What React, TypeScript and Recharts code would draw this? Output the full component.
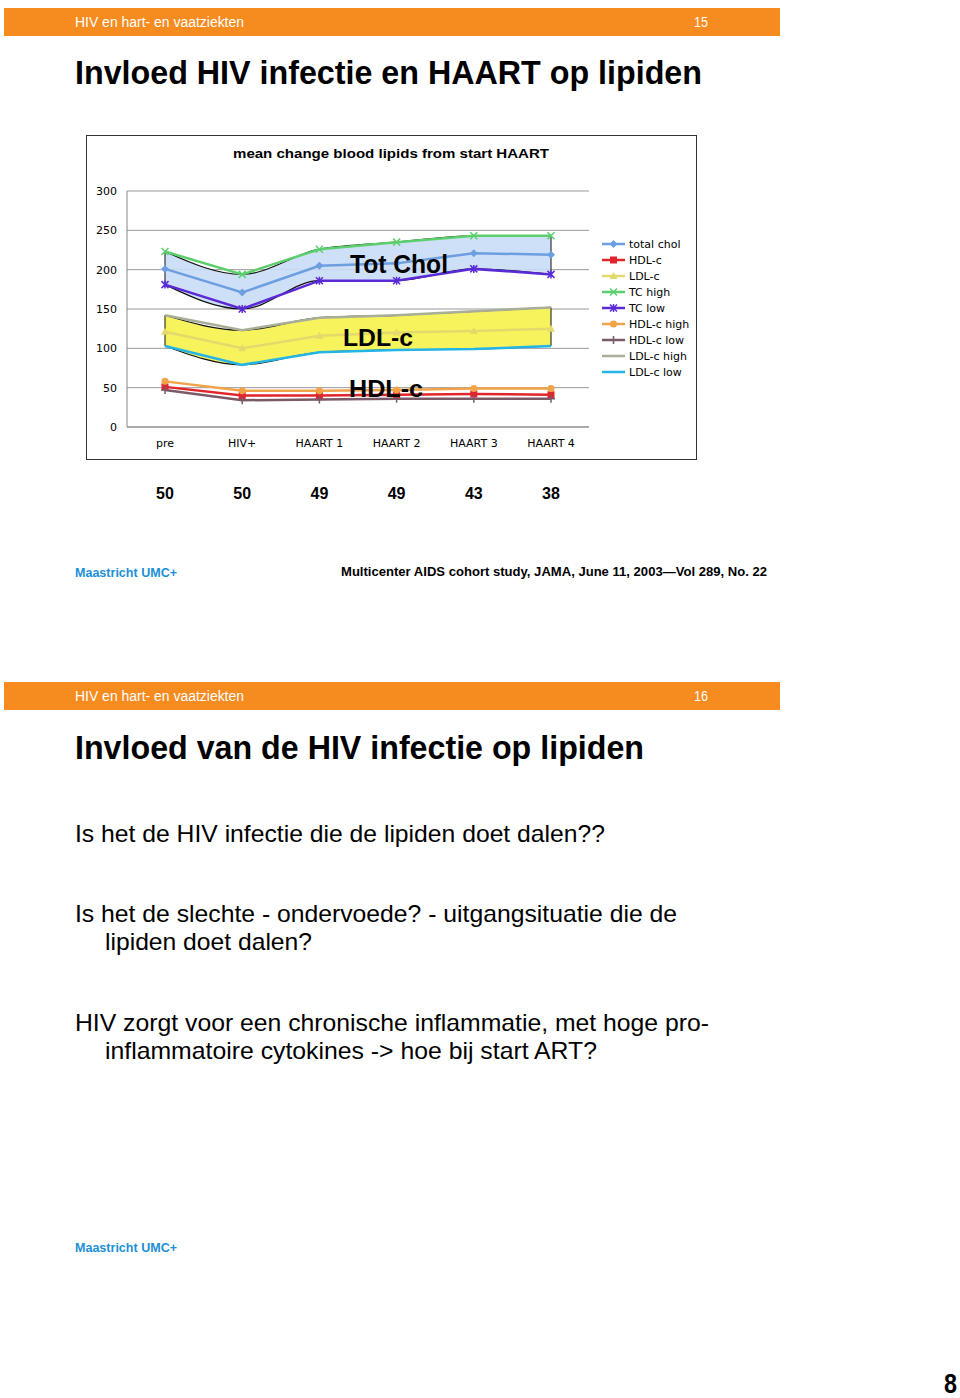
import {
  ComposedChart,
  Line,
  Area,
  XAxis,
  YAxis,
  CartesianGrid,
  Legend,
  ReferenceLine,
} from "recharts";

const categories = ["pre", "HIV+", "HAART 1", "HAART 2", "HAART 3", "HAART 4"];
const patients = [50, 50, 49, 49, 43, 38];

const totalChol = [201, 171, 205, 208, 221, 219];
const hdl = [51, 40, 40, 41, 42, 41];
const ldl = [121, 100, 116, 120, 122, 125];
const tcHigh = [223, 194, 226, 235, 243, 243];
const tcLow = [181, 150, 186, 186, 201, 194];
const hdlHigh = [58, 46, 46, 47, 49, 49];
const hdlLow = [47, 34, 35, 36, 36, 36];
const ldlHigh = [142, 123, 139, 142, 147, 152];
const ldlLow = [103, 79, 95, 98, 99, 103];

const yTicks = [0, 50, 100, 150, 200, 250, 300];

const series = [
  { key: "totalChol", name: "total chol", color: "#6d9fe0", shape: "diamond" },
  { key: "hdl", name: "HDL-c", color: "#e0262c", shape: "square" },
  { key: "ldl", name: "LDL-c", color: "#e2da6a", shape: "triangle" },
  { key: "tcHigh", name: "TC high", color: "#5ccf6c", shape: "x" },
  { key: "tcLow", name: "TC low", color: "#5a2ad6", shape: "star" },
  { key: "hdlHigh", name: "HDL-c high", color: "#f2a348", shape: "circle" },
  { key: "hdlLow", name: "HDL-c low", color: "#7b5a68", shape: "plus" },
  { key: "ldlHigh", name: "LDL-c high", color: "#a9ae98", shape: "none" },
  { key: "ldlLow", name: "LDL-c low", color: "#24b4e6", shape: "none" },
];

const data = categories.map((cat, i) => ({
  cat,
  totalChol: totalChol[i],
  hdl: hdl[i],
  ldl: ldl[i],
  tcHigh: tcHigh[i],
  tcLow: tcLow[i],
  hdlHigh: hdlHigh[i],
  hdlLow: hdlLow[i],
  ldlHigh: ldlHigh[i],
  ldlLow: ldlLow[i],
  tcBand: [tcLow[i], tcHigh[i]],
  ldlBand: [ldlLow[i], ldlHigh[i]],
}));

const marker = (shape: string, cx: number, cy: number, color: string) => {
  switch (shape) {
    case "diamond":
      return <polygon points={`${cx},${cy - 4} ${cx + 4},${cy} ${cx},${cy + 4} ${cx - 4},${cy}`} fill={color} />;
    case "square":
      return <rect x={cx - 3.5} y={cy - 3.5} width={7} height={7} fill={color} />;
    case "triangle":
      return <polygon points={`${cx},${cy - 4} ${cx + 4},${cy + 3} ${cx - 4},${cy + 3}`} fill={color} />;
    case "x":
      return (
        <path d={`M${cx - 3.5},${cy - 3.5}L${cx + 3.5},${cy + 3.5}M${cx + 3.5},${cy - 3.5}L${cx - 3.5},${cy + 3.5}`} stroke={color} strokeWidth={1.5} />
      );
    case "star":
      return (
        <path
          d={`M${cx - 3.5},${cy - 3.5}L${cx + 3.5},${cy + 3.5}M${cx + 3.5},${cy - 3.5}L${cx - 3.5},${cy + 3.5}M${cx},${cy - 4}L${cx},${cy + 4}`}
          stroke={color}
          strokeWidth={1.5}
        />
      );
    case "circle":
      return <circle cx={cx} cy={cy} r={3.5} fill={color} />;
    case "plus":
      return <path d={`M${cx - 4},${cy}L${cx + 4},${cy}M${cx},${cy - 4}L${cx},${cy + 4}`} stroke={color} strokeWidth={1.5} />;
    default:
      return null;
  }
};

const makeDot = (shape: string, color: string) => (props: any) => {
  const { cx, cy, index } = props;
  return <g key={`d-${shape}-${index}`}>{marker(shape, cx, cy, color)}</g>;
};

const renderLegend = () => (
  <svg width={95} height={150}>
    {series.map((s, i) => {
      const y = 8 + i * 16;
      return (
        <g key={s.key}>
          <line x1={2} x2={25} y1={y} y2={y} stroke={s.color} strokeWidth={2.5} />
          {marker(s.shape, 13.5, y, s.color)}
          <text x={29} y={y + 4} fontSize={11} fontFamily="DejaVu Sans" fill="#000">
            {s.name}
          </text>
        </g>
      );
    })}
  </svg>
);

const T = ({ x, y, w, size, bold, fill = "#000", children }: any) => (
  <text
    x={x}
    y={y}
    fontSize={size}
    fontWeight={bold ? "bold" : "normal"}
    fill={fill}
    fontFamily="Liberation Sans, Arial"
    textLength={w}
    lengthAdjust="spacingAndGlyphs"
  >
    {children}
  </text>
);

const pad = { left: 38, right: 38 };

const App = () => {
  return (
    <div style={{ position: "absolute", left: 0, top: 0, width: 960, height: 1398, background: "#fff" }}>
      <svg width={960} height={1398} style={{ position: "absolute", left: 0, top: 0 }}>
        <rect x={4} y={8} width={776} height={28} fill="#f68b1f" />
        <T x={75} y={27} w={169} size={14} fill="#fff">HIV en hart- en vaatziekten</T>
        <T x={694} y={27} w={14} size={14} fill="#fff">15</T>
        <T x={75} y={84} w={627} size={33} bold>Invloed HIV infectie en HAART op lipiden</T>
        <T x={75} y={577} w={102} size={12.5} bold fill="#1d8fd6">Maastricht UMC+</T>
        <T x={341} y={576} w={426} size={13} bold>Multicenter AIDS cohort study,  JAMA, June 11, 2003—Vol 289, No. 22</T>

        <rect x={4} y={682} width={776} height={28} fill="#f68b1f" />
        <T x={75} y={701} w={169} size={14} fill="#fff">HIV en hart- en vaatziekten</T>
        <T x={694} y={701} w={14} size={14} fill="#fff">16</T>
        <T x={75} y={759} w={569} size={33} bold>Invloed van de HIV infectie op lipiden</T>
        <T x={75} y={842} w={530} size={24}>Is het de HIV infectie die de lipiden doet dalen??</T>
        <T x={75} y={922} w={602} size={24}>Is het de slechte - ondervoede? - uitgangsituatie die de</T>
        <T x={105} y={950} w={207} size={24}>lipiden doet dalen?</T>
        <T x={75} y={1031} w={634} size={24}>HIV zorgt voor een chronische inflammatie, met hoge pro-</T>
        <T x={105} y={1059} w={492} size={24}>inflammatoire cytokines -&gt; hoe bij start ART?</T>
        <T x={75} y={1252} w={102} size={12.5} bold fill="#1d8fd6">Maastricht UMC+</T>
        <T x={944} y={1393} w={13} size={27} bold>8</T>
      </svg>

      <div
        style={{
          position: "absolute",
          left: 86,
          top: 135,
          width: 611,
          height: 325,
          border: "1px solid #333",
          boxSizing: "border-box",
        }}
      />

      <div style={{ position: "absolute", left: 86, top: 135 }}>
        <ComposedChart width={611} height={400} data={data} margin={{ top: 56, right: 108, left: 10, bottom: 33 }}>
          <CartesianGrid stroke="#999" vertical={false} />
          <XAxis
            dataKey="cat"
            height={25}
            stroke="#888"
            padding={pad}
            tickLine={false}
            tickMargin={6}
            tick={{ fontSize: 11, fill: "#000", fontFamily: "DejaVu Sans" }}
          />
          <XAxis
            xAxisId="n"
            dataKey="cat"
            height={50}
            padding={pad}
            axisLine={false}
            tickLine={false}
            tickMargin={30}
            tickFormatter={(_v: string, i: number) => String(patients[i])}
            tick={{ fontSize: 16, fill: "#000", fontWeight: "bold", fontFamily: "Liberation Sans" }}
          />
          <YAxis
            domain={[0, 300]}
            ticks={yTicks}
            width={31}
            stroke="#888"
            tickLine={false}
            tickMargin={4}
            tick={{ fontSize: 11, fill: "#000", fontFamily: "DejaVu Sans" }}
          />
          <YAxis yAxisId="frame" orientation="right" domain={[0, 300]} tick={false} width={0} stroke="#999" />

          <Area
            type="monotone"
            dataKey="tcBand"
            fill="#c9ddf6"
            fillOpacity={0.9}
            stroke="#111"
            strokeWidth={1.2}
            legendType="none"
            dot={false}
            activeDot={false}
            isAnimationActive={false}
          />
          <Area
            type="monotone"
            dataKey="ldlBand"
            fill="#f6f35c"
            fillOpacity={1}
            stroke="#111"
            strokeWidth={1.2}
            legendType="none"
            dot={false}
            activeDot={false}
            isAnimationActive={false}
          />
          <ReferenceLine segment={[{ x: categories[0], y: tcLow[0] }, { x: categories[0], y: tcHigh[0] }]} stroke="#111" />
          <ReferenceLine segment={[{ x: categories[5], y: tcLow[5] }, { x: categories[5], y: tcHigh[5] }]} stroke="#111" />
          <ReferenceLine segment={[{ x: categories[0], y: ldlLow[0] }, { x: categories[0], y: ldlHigh[0] }]} stroke="#111" />
          <ReferenceLine segment={[{ x: categories[5], y: ldlLow[5] }, { x: categories[5], y: ldlHigh[5] }]} stroke="#111" />

          {series.map((s) => (
            <Line
              key={s.key}
              type="linear"
              dataKey={s.key}
              name={s.name}
              stroke={s.color}
              strokeWidth={2.5}
              dot={s.shape === "none" ? false : makeDot(s.shape, s.color)}
              activeDot={false}
              isAnimationActive={false}
            />
          ))}

          <Legend
            layout="vertical"
            align="center"
            verticalAlign="middle"
            content={renderLegend}
            wrapperStyle={{ position: "absolute", left: 514, top: 101, width: 95, height: 150 }}
          />
        </ComposedChart>
      </div>

      <svg width={960} height={600} style={{ position: "absolute", left: 0, top: 0, pointerEvents: "none" }}>
        <T x={233} y={158} w={316} size={12} bold>mean change blood lipids from start HAART</T>
        <T x={350} y={273} w={98} size={25} bold>Tot Chol</T>
        <T x={343} y={346} w={70} size={23} bold>LDL-c</T>
        <T x={349} y={397} w={74} size={23} bold>HDL-c</T>
      </svg>
    </div>
  );
};

export default App;
